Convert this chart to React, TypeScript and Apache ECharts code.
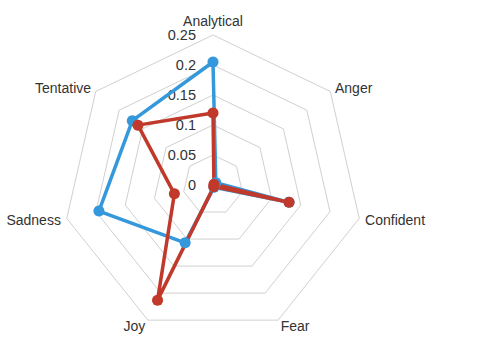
import React, { useEffect, useRef } from "react";
import * as echarts from "echarts";

const indicatorNames = ["Analytical", "Anger", "Confident", "Fear", "Joy", "Sadness", "Tentative"];
const blueValues = [0.205, 0.006, 0.13, 0.004, 0.107, 0.195, 0.172];
const redValues = [0.12, 0.002, 0.13, 0.003, 0.213, 0.066, 0.16];
const axisMin = 0;
const axisMax = 0.25;
const splitCount = 5;

// ECharts lays indicators counter-clockwise; reorder so they appear clockwise like the reference
const order = [0, 6, 5, 4, 3, 2, 1];

export default function App() {
  const ref = useRef<HTMLDivElement>(null);
  useEffect(() => {
    document.body.style.margin = "0";
    const chart = echarts.init(ref.current!, null, { renderer: "svg" });
    const font = "Liberation Sans, Arial, Helvetica, sans-serif";
    chart.setOption({
      animation: false,
      backgroundColor: "#fff",
      radar: {
        center: [213, 185],
        radius: 150,
        startAngle: 90,
        splitNumber: splitCount,
        shape: "polygon",
        nameGap: 6,
        axisName: { color: "#333", fontSize: 14, fontFamily: font },
        splitLine: { lineStyle: { color: "#d0d0d0", width: 1 } },
        splitArea: { show: false },
        axisLine: { show: false },
        axisTick: { show: false },
        axisLabel: { show: false },
        indicator: order.map((i, k) => ({
          name: indicatorNames[i],
          min: axisMin,
          max: axisMax,
          axisLabel:
            k === 0
              ? {
                  show: true,
                  color: "#333",
                  fontSize: 14.5,
                  fontFamily: font,
                  margin: 17,
                  padding: [4, 0, 0, 0],
                  formatter: (v: number) => String(+v.toFixed(2)),
                }
              : { show: false },
        })),
      },
      series: [
        {
          type: "radar",
          symbol: "circle",
          symbolSize: 11,
          data: [
            {
              value: order.map((i) => blueValues[i]),
              itemStyle: { color: "#3498db" },
              lineStyle: { color: "#3498db", width: 3.5 },
            },
            {
              value: order.map((i) => redValues[i]),
              itemStyle: { color: "#c0392b" },
              lineStyle: { color: "#c0392b", width: 3.5 },
            },
          ],
        },
      ],
    });
    return () => chart.dispose();
  }, []);
  return <div ref={ref} style={{ width: 499, height: 360 }} />;
}
